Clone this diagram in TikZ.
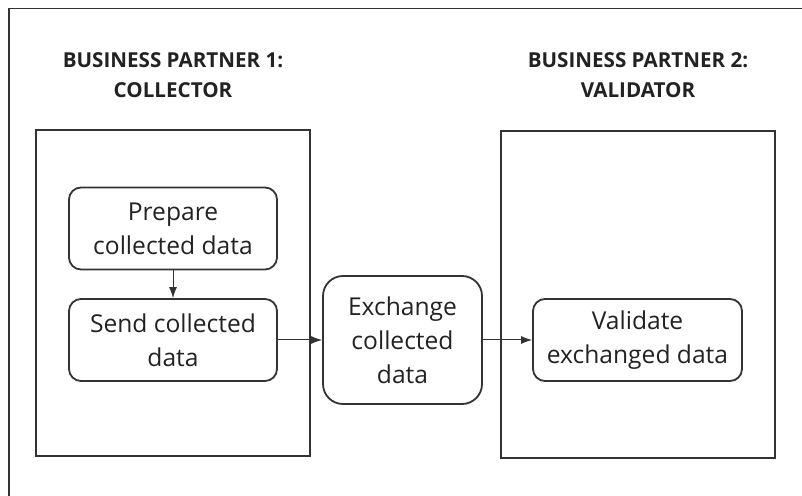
\documentclass[tikz,border=0pt]{standalone}
\usepackage{fontspec}
\setmainfont{Open Sans}
\usetikzlibrary{arrows.meta}
\definecolor{linegray}{HTML}{333333}
\definecolor{textgray}{HTML}{222222}

\begin{document}
\begin{tikzpicture}[x=0.5pt,y=-0.5pt,
    lane/.style={draw=linegray,line width=1pt,minimum width=137pt,minimum height=163pt,inner sep=0pt},
    task/.style={draw=linegray,line width=0.9pt,rounded corners=6pt,align=center,inner sep=0pt,
      minimum width=104pt,minimum height=41pt,text=textgray,font=\fontsize{12.3}{17}\selectfont},
    title/.style={align=center,text=textgray,font=\bfseries\fontsize{10.3}{15}\selectfont},
    flow/.style={draw=linegray,line width=0.5pt,-{Latex[length=5.5pt,width=4pt]}}]
  \useasboundingbox (0,0) rectangle (802,496);
  \draw[linegray,line width=0.9pt] (9,496) -- (9,8.5) -- (802,8.5);
  % the two partners
  \node[title] (t1) at (173,75) {BUSINESS PARTNER 1:\\COLLECTOR};
  \node[title] (t2) at (638,75) {BUSINESS PARTNER 2:\\VALIDATOR};
  \node[lane] (p1) at (173,293) {};
  \node[lane] (p2) at (638,294.5) {};
  % tasks
  \node[task] (prep) at (173,228.5) {Prepare\\collected data};
  \node[task] (send) at (173,340) {Send collected\\data};
  \node[task,minimum width=79.5pt,minimum height=64pt,rounded corners=10pt] (exch) at (402.5,340) {Exchange\\collected\\data};
  \node[task,minimum width=104.5pt] (valid) at (637.5,340) {Validate\\exchanged data};
  \draw[flow] (prep) -- (send);
  \draw[flow] (send) -- (exch);
  \draw[flow] (exch) -- (valid);
\end{tikzpicture}
\end{document}
